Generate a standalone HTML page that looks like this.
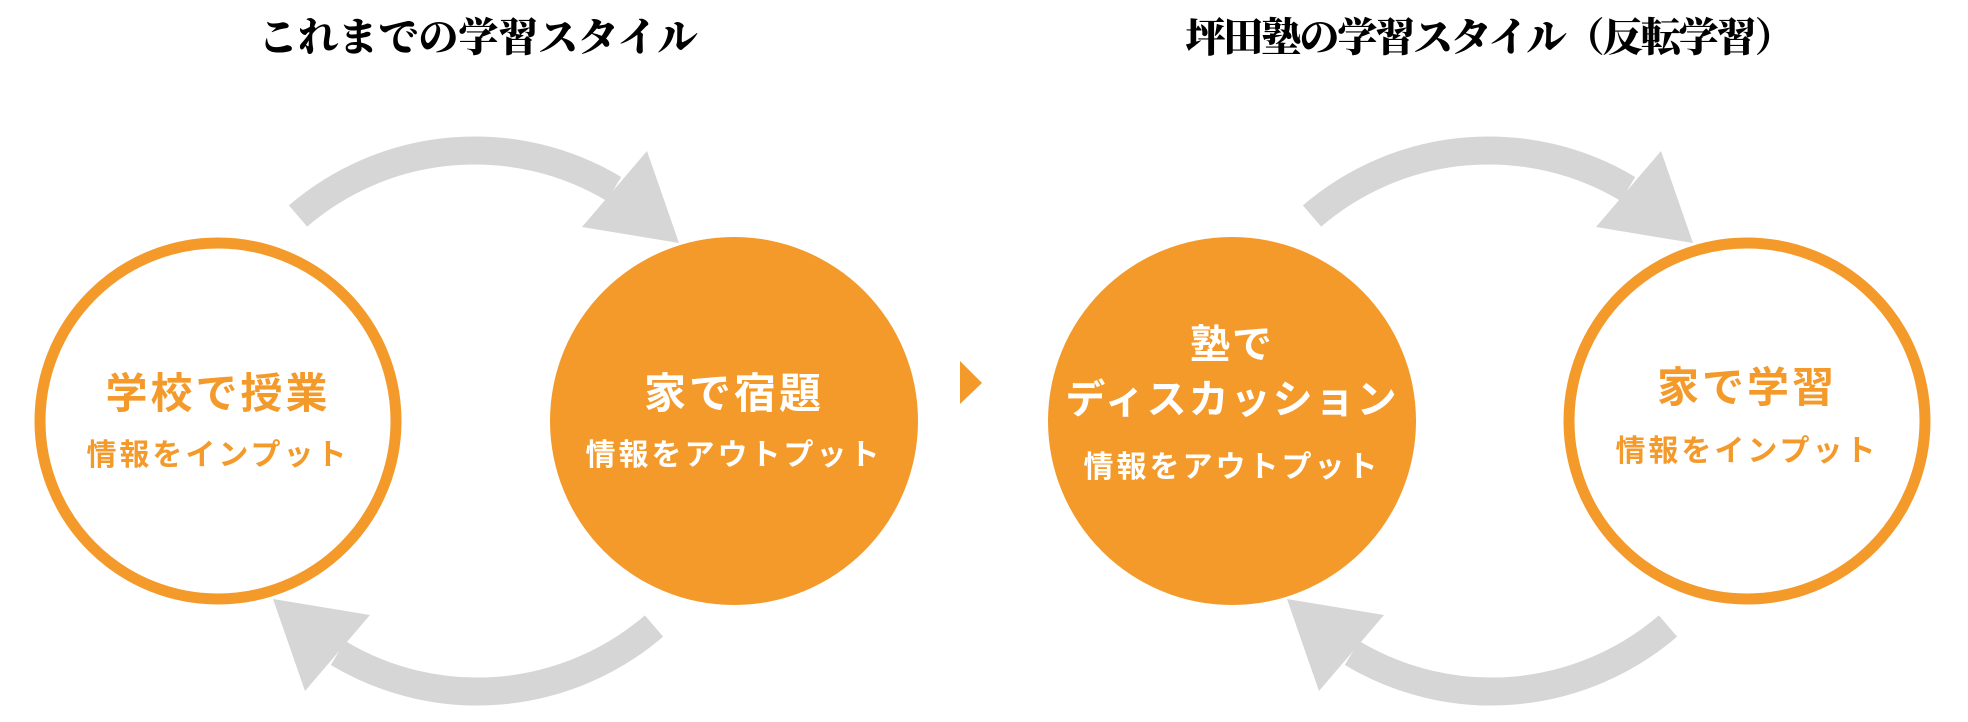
<!DOCTYPE html>
<html><head><meta charset="utf-8"><style>
html,body{margin:0;padding:0;background:#fff;}
body{width:1968px;height:722px;overflow:hidden;position:relative;}
svg{position:absolute;left:0;top:0;}
.t{position:absolute;font-family:"Liberation Sans","Noto Sans CJK JP",sans-serif;font-weight:bold;text-align:center;white-space:nowrap;line-height:1;}
.ti{position:absolute;font-family:"Liberation Serif","Noto Serif CJK JP",serif;font-weight:900;font-size:40px;color:#000;text-align:center;white-space:nowrap;line-height:1;}
</style></head><body>
<svg width="1968" height="722" viewBox="0 0 1968 722">
<g id="arr" fill="#d6d6d6">
  <path d="M298,216 A271 271 0 0 1 614,189" fill="none" stroke="#d6d6d6" stroke-width="28"/>
  <polygon points="647,151 582,227 679,243"/>
</g>
<use href="#arr" transform="rotate(180 476 421)"/>
<use href="#arr" transform="translate(1014 0)"/>
<use href="#arr" transform="translate(1014 0) rotate(180 476 421)"/>
<circle cx="218" cy="421" r="178" fill="#fff" stroke="#f39a2b" stroke-width="11"/>
<circle cx="734" cy="421" r="184" fill="#f39a2b"/>
<circle cx="1232" cy="421" r="184" fill="#f39a2b"/>
<circle cx="1747" cy="421" r="178" fill="#fff" stroke="#f39a2b" stroke-width="11"/>
<polygon points="960,361 982,383 960,404" fill="#f39a2b"/>
</svg>
<div class="ti" style="left:178px;top:18px;width:600px;">これまでの学習スタイル</div>
<div class="ti" style="left:1139px;top:18px;width:700px;letter-spacing:-2px;">坪田塾の学習スタイル（反転学習）</div>

<div class="t" style="left:18px;top:373px;width:400px;font-size:42px;color:#f39a2b;letter-spacing:3px;">学校で授業</div>
<div class="t" style="left:18px;top:441px;width:400px;font-size:30px;color:#f39a2b;letter-spacing:3px;">情報をインプット</div>

<div class="t" style="left:534px;top:373px;width:400px;font-size:42px;color:#fff;letter-spacing:3px;">家で宿題</div>
<div class="t" style="left:534px;top:441px;width:400px;font-size:30px;color:#fff;letter-spacing:3px;">情報をアウトプット</div>

<div class="t" style="left:1032px;top:325px;width:400px;font-size:40px;color:#fff;letter-spacing:2px;">塾で</div>
<div class="t" style="left:1032px;top:380px;width:400px;font-size:40px;color:#fff;letter-spacing:2px;">ディスカッション</div>
<div class="t" style="left:1032px;top:453px;width:400px;font-size:30px;color:#fff;letter-spacing:3px;">情報をアウトプット</div>

<div class="t" style="left:1547px;top:367px;width:400px;font-size:42px;color:#f39a2b;letter-spacing:3px;">家で学習</div>
<div class="t" style="left:1547px;top:437px;width:400px;font-size:30px;color:#f39a2b;letter-spacing:3px;">情報をインプット</div>
</body></html>
